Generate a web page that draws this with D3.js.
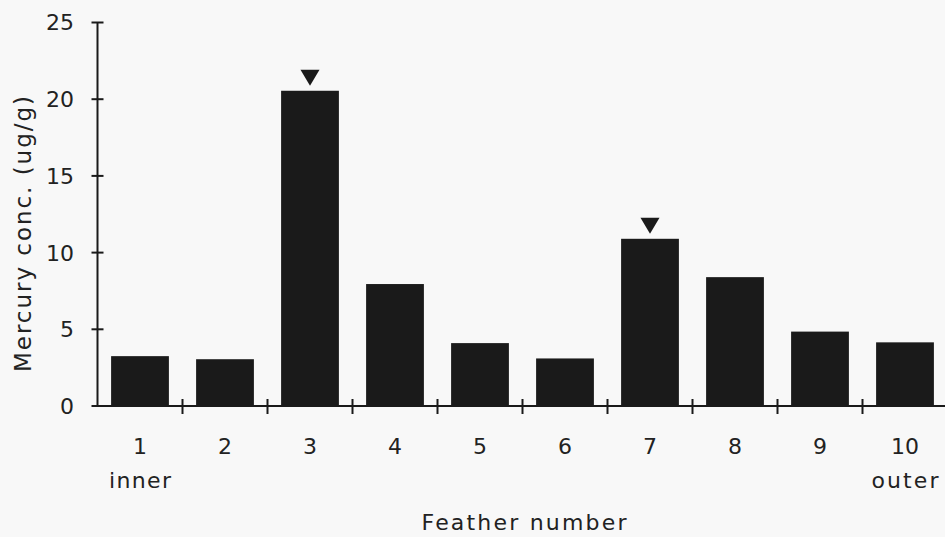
<!DOCTYPE html>
<html>
<head>
<meta charset="utf-8">
<script src="https://cdn.jsdelivr.net/npm/d3@7"></script>
<style>
  html, body { margin: 0; padding: 0; background: #f8f8f8; }
  svg { display: block; }
  text { font-family: "DejaVu Sans", sans-serif; fill: #222; }
</style>
</head>
<body>
<svg id="chart" width="945" height="537"></svg>
<script>
const categories = ["1", "2", "3", "4", "5", "6", "7", "8", "9", "10"];
const subLabels = ["inner", "", "", "", "", "", "", "", "", "outer"];
const values = [3.25, 3.05, 20.55, 7.95, 4.1, 3.1, 10.9, 8.4, 4.85, 4.15];
const marked = [false, false, true, false, false, false, true, false, false, false];
const yTicks = [0, 5, 10, 15, 20, 25];
const xTitle = "Feather number";
const yTitle = "Mercury conc. (ug/g)";

const svg = d3.select("#chart");
const W = 945, H = 537;
svg.append("rect").attr("width", W).attr("height", H).attr("fill", "#f8f8f8");

const x0 = 97.5, bandW = 85;
const x = d3.scaleBand().domain(categories)
  .range([x0, x0 + bandW * categories.length]).paddingInner(0.32).paddingOuter(0.16);
const y = d3.scaleLinear().domain([0, 25]).range([406, 22.5]);

const ink = "#1a1a1a";

// bars
svg.append("g").selectAll("rect").data(values).join("rect")
  .attr("x", (d, i) => x(categories[i]))
  .attr("width", x.bandwidth())
  .attr("y", d => y(d))
  .attr("height", d => y(0) - y(d))
  .attr("fill", ink);

// markers
svg.append("g").selectAll("path").data(values.map((v, i) => ({v, i})).filter(d => marked[d.i]))
  .join("path")
  .attr("d", d => {
    const cx = x(categories[d.i]) + x.bandwidth() / 2;
    const top = y(d.v) - 21, bot = y(d.v) - 5;
    return `M${cx - 9.5},${top}L${cx + 9.5},${top}L${cx},${bot}Z`;
  })
  .attr("fill", ink);

// y axis
const yAxis = svg.append("g");
yAxis.append("line").attr("x1", x0).attr("x2", x0).attr("y1", y(25)).attr("y2", y(0))
  .attr("stroke", ink).attr("stroke-width", 2);
yAxis.selectAll("line.t").data(yTicks).join("line").attr("class", "t")
  .attr("x1", x0 - 6).attr("x2", x0 + 6).attr("y1", d => y(d)).attr("y2", d => y(d))
  .attr("stroke", ink).attr("stroke-width", 2);
yAxis.selectAll("text").data(yTicks).join("text")
  .attr("x", 74).attr("y", d => y(d)).attr("dy", "0.36em")
  .attr("text-anchor", "end").attr("font-size", 22).text(d => d);

// x axis
const xAxis = svg.append("g");
const xEnd = x0 + bandW * categories.length;
xAxis.append("line").attr("x1", x0).attr("x2", xEnd).attr("y1", y(0)).attr("y2", y(0))
  .attr("stroke", ink).attr("stroke-width", 2);
const bounds = d3.range(1, categories.length + 1).map(i => x0 + i * bandW);
xAxis.selectAll("line.t").data(bounds).join("line").attr("class", "t")
  .attr("x1", d => d).attr("x2", d => d).attr("y1", y(0) - 7).attr("y2", y(0) + 8)
  .attr("stroke", ink).attr("stroke-width", 2);
xAxis.selectAll("text.c").data(categories).join("text").attr("class", "c")
  .attr("x", d => x(d) + x.bandwidth() / 2).attr("y", 454)
  .attr("text-anchor", "middle").attr("font-size", 22).text(d => d);
xAxis.selectAll("text.s").data(subLabels).join("text").attr("class", "s")
  .attr("x", (d, i) => x(categories[i]) + x.bandwidth() / 2).attr("y", 488)
  .attr("text-anchor", "middle").attr("font-size", 22)
  .attr("textLength", (d, i) => d === "inner" ? 62 : (d === "outer" ? 67 : null))
  .attr("lengthAdjust", "spacing")
  .text(d => d);

// titles
svg.append("text").attr("x", 524).attr("y", 530).attr("text-anchor", "middle")
  .attr("font-size", 22).attr("textLength", 205).attr("lengthAdjust", "spacing")
  .text(xTitle);
svg.append("text").attr("transform", "translate(31,234) rotate(-90)")
  .attr("text-anchor", "middle").attr("font-size", 23)
  .attr("textLength", 276).attr("lengthAdjust", "spacing").text(yTitle);
</script>
</body>
</html>
